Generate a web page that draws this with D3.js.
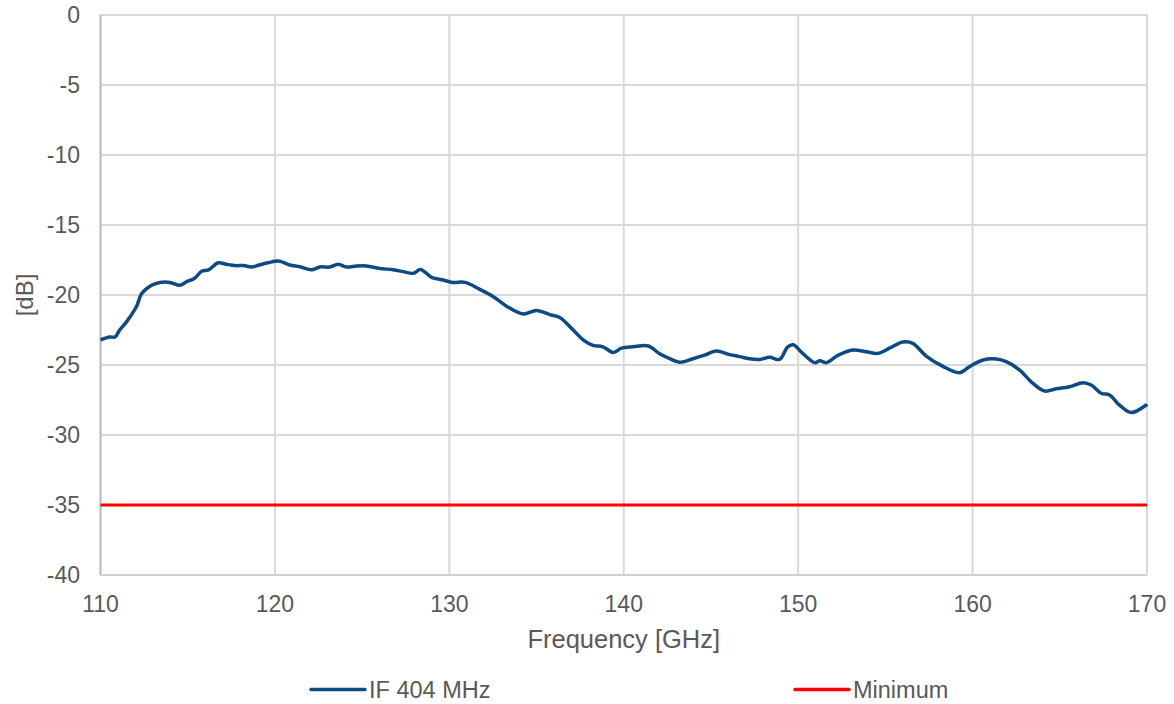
<!DOCTYPE html>
<html>
<head>
<meta charset="utf-8">
<script src="https://cdn.jsdelivr.net/npm/d3@7"></script>
<style>
  html, body { margin: 0; padding: 0; background: #fff; }
  svg { display: block; font-family: "Liberation Sans", Arial, sans-serif; }
</style>
</head>
<body>
<svg id="chart" width="1174" height="704"></svg>
<script>
// Measured conversion gain vs frequency
const freqGHz = [110, 110.54, 110.83, 111.1, 111.5, 112.07, 112.36, 112.93, 113.41, 113.98,
  114.56, 114.94, 115.4, 115.8, 116.2, 116.75, 117.2, 117.7, 118.2, 118.66,
  119.1, 119.6, 120.2, 120.86, 121.43, 122.1, 122.58, 123.15, 123.63, 124.1,
  124.7, 125.25, 126.0, 126.78, 127.35, 127.93, 128.35, 128.98, 129.65, 130.2,
  130.9, 131.75, 132.5, 133.28, 134.23, 135.0, 135.76, 136.33, 137.1, 137.67,
  138.24, 138.8, 139.4, 139.87, 140.53, 141.4, 142.06, 142.64, 143.2, 143.97,
  144.64, 145.3, 146.07, 146.65, 147.2, 147.8, 148.37, 148.94, 149.4, 149.72,
  150.2, 150.95, 151.24, 151.6, 152.3, 153.14, 153.9, 154.57, 155.24, 156.0,
  156.57, 157.34, 158.3, 159.25, 159.82, 160.6, 161.36, 161.93, 162.7, 163.45,
  164.13, 164.8, 165.56, 166.33, 166.8, 167.37, 167.85, 168.42, 169.1, 169.95, 170];
const if404 = [-23.2, -23.0, -23.0, -22.5, -21.9, -20.8, -19.9, -19.3, -19.1, -19.1,
  -19.3, -19.05, -18.8, -18.3, -18.2, -17.7, -17.8, -17.9, -17.9, -18.0,
  -17.86, -17.7, -17.57, -17.86, -17.98, -18.2, -18.0, -18.0, -17.8, -18.0,
  -17.93, -17.93, -18.1, -18.2, -18.33, -18.45, -18.17, -18.74, -18.93, -19.1,
  -19.1, -19.6, -20.1, -20.8, -21.36, -21.1, -21.4, -21.6, -22.5, -23.2,
  -23.6, -23.7, -24.1, -23.8, -23.7, -23.64, -24.2, -24.55, -24.8, -24.55,
  -24.3, -24.0, -24.26, -24.4, -24.55, -24.6, -24.45, -24.6, -23.7, -23.55,
  -24.1, -24.83, -24.7, -24.83, -24.3, -23.93, -24.05, -24.17, -23.8, -23.36,
  -23.45, -24.36, -25.1, -25.55, -25.12, -24.64, -24.57, -24.76, -25.36, -26.3,
  -26.86, -26.7, -26.55, -26.26, -26.43, -27.02, -27.14, -27.86, -28.4, -27.86, -27.8];
const minimumDb = -35;
const xTicks = [110, 120, 130, 140, 150, 160, 170];
const yTicks = [0, -5, -10, -15, -20, -25, -30, -35, -40];
const seriesNames = ["IF 404 MHz", "Minimum"];
const seriesColors = ["#0c4a84", "#ff0000"];

const svg = d3.select("#chart");
const margin = { left: 100.5, right: 1147, top: 15, bottom: 575 };
const x = d3.scaleLinear().domain([110, 170]).range([margin.left, margin.right]);
const y = d3.scaleLinear().domain([-40, 0]).range([margin.bottom, margin.top]);
const textColor = "#595959";

// grid
const grid = svg.append("g");
grid.selectAll("line.v").data(xTicks).join("line")
  .attr("x1", d => x(d)).attr("x2", d => x(d))
  .attr("y1", margin.top).attr("y2", margin.bottom)
  .attr("stroke", "#d9d9d9").attr("stroke-width", 2);
grid.selectAll("line.h").data(yTicks).join("line")
  .attr("x1", margin.left).attr("x2", margin.right)
  .attr("y1", d => y(d)).attr("y2", d => y(d))
  .attr("stroke", "#d9d9d9").attr("stroke-width", 2);

// axis lines
svg.append("line").attr("x1", margin.left).attr("x2", margin.left)
  .attr("y1", margin.top).attr("y2", margin.bottom)
  .attr("stroke", "#bfbfbf").attr("stroke-width", 2);
svg.append("line").attr("x1", margin.left).attr("x2", margin.right)
  .attr("y1", margin.bottom).attr("y2", margin.bottom)
  .attr("stroke", "#d0d0d0").attr("stroke-width", 2);

// tick labels
svg.append("g").selectAll("text").data(xTicks).join("text")
  .attr("x", d => x(d)).attr("y", 612)
  .attr("text-anchor", "middle").attr("fill", textColor)
  .style("font-size", "23px").text(d => d);
svg.append("g").selectAll("text").data(yTicks).join("text")
  .attr("x", 80).attr("y", d => y(d) + 8.3)
  .attr("text-anchor", "end").attr("fill", textColor)
  .style("font-size", "23px").text(d => d);

// axis titles
svg.append("text").attr("x", (margin.left + margin.right) / 2).attr("y", 648)
  .attr("text-anchor", "middle").attr("fill", textColor)
  .style("font-size", "25.5px").text("Frequency [GHz]");
svg.append("text").attr("transform", `translate(33, ${y(-20)}) rotate(-90)`)
  .attr("text-anchor", "middle").attr("fill", textColor)
  .style("font-size", "24px").text("[dB]");

// minimum limit line
svg.append("line")
  .attr("x1", x(110)).attr("x2", x(170))
  .attr("y1", y(minimumDb)).attr("y2", y(minimumDb))
  .attr("stroke", seriesColors[1]).attr("stroke-width", 3);

// measured curve
const pts = freqGHz.map((f, i) => [f, if404[i]]);
svg.append("path").datum(pts)
  .attr("fill", "none").attr("stroke", seriesColors[0])
  .attr("stroke-width", 3.5).attr("stroke-linejoin", "round")
  .attr("d", d3.line().x(d => x(d[0])).y(d => y(d[1])).curve(d3.curveCatmullRom.alpha(0.5)));

// legend
const legendX = [311, 795];
const legend = svg.append("g").selectAll("g").data(seriesNames).join("g")
  .attr("transform", (d, i) => `translate(${legendX[i]}, 689.5)`);
legend.append("line").attr("x1", 0).attr("x2", 54).attr("y1", 0).attr("y2", 0)
  .attr("stroke", (d, i) => seriesColors[i]).attr("stroke-width", 3.5)
  .attr("stroke-linecap", "round");
legend.append("text").attr("x", 58).attr("y", 8).attr("fill", textColor)
  .style("font-size", "23.5px").text(d => d);
</script>
</body>
</html>
